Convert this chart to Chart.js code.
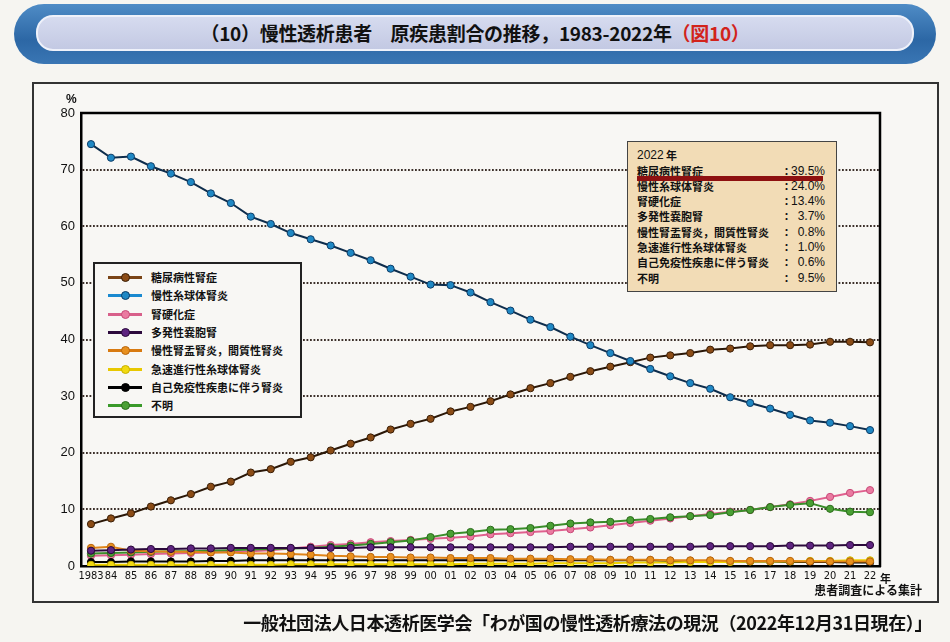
<!DOCTYPE html>
<html><head><meta charset="utf-8">
<script src="https://cdn.jsdelivr.net/npm/chart.js@4"></script>
<style>
html,body{margin:0;padding:0;background:#f6f5f1;}
#wrap{position:relative;width:950px;height:642px;overflow:hidden;background:#f6f5f1;font-family:'Noto Sans CJK JP','Noto Sans',sans-serif;color:#111;}
.abs{position:absolute;}
#banner{left:14px;top:4px;width:922px;height:60px;border-radius:30px;background:linear-gradient(#4f8cc6,#2c67a5 60%,#3a76b4);}
#bannerIn{left:36px;top:15px;width:874px;height:32px;border-radius:17px;background:linear-gradient(#d6dbef,#c3c9e3);border:2px solid #eef1fa;}
#title{left:0;top:15px;width:950px;text-align:center;font-size:19px;font-weight:bold;line-height:36px;letter-spacing:-0.3px;}
#title .red{color:#d2231b;}
#frame{left:32px;top:82px;width:903px;height:517px;border:2px solid #333;background:#f8f7f4;}
#c{position:absolute;left:0;top:0;}
#pct{left:66px;top:92px;font-size:12px;font-weight:bold;font-family:'Liberation Sans',Arial,sans-serif;}
#nen{left:880px;top:570px;font-size:11px;font-weight:bold;}
#src{left:790px;top:582px;width:132px;text-align:right;font-size:12px;font-weight:bold;line-height:16px;}
#foot{left:150px;top:608px;width:782px;text-align:right;font-size:18px;font-weight:bold;line-height:28px;letter-spacing:-0.4px;}
#legend{left:93px;top:262px;width:205px;height:152px;border:2px solid #222;background:#f8f7f4;}
.lrow{position:absolute;left:0;height:18px;width:205px;}
.lline{position:absolute;left:13px;top:8px;width:34px;height:3px;}
.ldot{position:absolute;left:26px;top:5px;width:7px;height:7px;border-radius:50%;border:1px solid #222;}
.ltxt{position:absolute;left:56px;top:0;font-size:11px;font-weight:bold;line-height:18px;white-space:nowrap;}
#info{left:627px;top:141px;width:208px;height:149px;border:1.5px solid #444;background:#f2dcb6;}
.irow{position:absolute;left:0;width:208px;height:15px;font-size:11px;font-weight:bold;line-height:15px;}
.iname{position:absolute;left:9px;white-space:nowrap;}
.icol{position:absolute;left:153px;}
.ival{position:absolute;right:11px;font-family:'Liberation Sans',Arial,sans-serif;font-size:12px;font-weight:normal;}
#redbar{left:637px;top:176px;width:186px;height:5px;background:#8e1010;}
</style></head>
<body>
<div id="wrap">
  <div id="banner" class="abs"></div>
  <div id="bannerIn" class="abs"></div>
  <div id="title" class="abs">（10）慢性透析患者　原疾患割合の推移，1983-2022年<span class="red">（図10）</span></div>
  <div id="frame" class="abs"></div>
  <canvas id="c" width="950" height="642"></canvas>
  <div id="pct" class="abs">%</div>
  <div id="nen" class="abs">年</div>
  <div id="src" class="abs">患者調査による集計</div>
  <div id="legend" class="abs"></div>
  <div id="info" class="abs"></div>
  <div id="redbar" class="abs"></div>
  <div id="foot" class="abs">一般社団法人日本透析医学会「わが国の慢性透析療法の現況（2022年12月31日現在）」</div>
</div>
<script>
// ---- data ----
const years = ['1983','84','85','86','87','88','89','90','91','92','93','94','95','96','97','98','99','00','01','02','03','04','05','06','07','08','09','10','11','12','13','14','15','16','17','18','19','20','21','22'];
const yTicks = [0,10,20,30,40,50,60,70,80];
const seriesNames = ['糖尿病性腎症','慢性糸球体腎炎','腎硬化症','多発性嚢胞腎','慢性腎盂腎炎，間質性腎炎','急速進行性糸球体腎炎','自己免疫性疾患に伴う腎炎','不明'];
const diabetic = [7.4,8.4,9.3,10.5,11.6,12.7,14.0,14.9,16.5,17.1, 18.4,19.2,20.4,21.6,22.7,24.1,25.1,26.0,27.3,28.1, 29.1,30.3,31.4,32.3,33.4,34.4,35.2,36.0,36.8,37.2, 37.6,38.2,38.4,38.8,39.0,39.0,39.1,39.6,39.6,39.5];
const glomerulo = [74.5,72.1,72.3,70.6,69.3,67.8,65.8,64.1,61.7,60.4, 58.8,57.7,56.6,55.3,54.0,52.5,51.1,49.7,49.6,48.3, 46.6,45.1,43.5,42.2,40.5,39.0,37.6,36.2,34.8,33.5, 32.3,31.3,29.8,28.8,27.8,26.7,25.7,25.3,24.7,24.0];
const sclerosis = [1.8,1.9,2.0,2.1,2.2,2.3,2.4,2.5,2.6,2.8, 3.1,3.4,3.7,3.9,4.2,4.4,4.6,4.8,5.0,5.2, 5.6,5.8,6.0,6.2,6.5,6.8,7.2,7.6,8.0,8.4, 8.8,9.2,9.6,9.9,10.4,10.9,11.5,12.2,12.9,13.4];
const polycystic = [2.7,2.8,2.9,3.0,3.0,3.1,3.1,3.2,3.2,3.2, 3.2,3.2,3.2,3.2,3.3,3.3,3.3,3.3,3.3,3.3, 3.3,3.3,3.3,3.3,3.4,3.4,3.4,3.4,3.4,3.4, 3.4,3.5,3.5,3.5,3.5,3.6,3.6,3.6,3.7,3.7];
const pyelo = [3.2,3.4,2.7,2.6,2.5,2.5,2.4,2.4,2.2,2.2, 2.1,2.0,1.8,1.7,1.6,1.6,1.5,1.5,1.4,1.4, 1.4,1.3,1.3,1.3,1.2,1.2,1.1,1.1,1.1,1.0, 1.0,1.0,0.9,0.9,0.9,0.9,0.8,0.8,0.8,0.8];
const rpgn = [0.2,0.2,0.2,0.2,0.2,0.2,0.2,0.2,0.2,0.2, 0.3,0.3,0.3,0.3,0.3,0.3,0.3,0.3,0.3,0.4, 0.4,0.4,0.4,0.5,0.5,0.5,0.5,0.6,0.6,0.6, 0.7,0.7,0.7,0.8,0.8,0.8,0.9,0.9,1.0,1.0];
const autoimmune = [0.7,0.7,0.8,0.8,0.8,0.8,0.9,0.9,1.0,1.0, 1.0,1.0,1.0,1.0,1.0,1.0,1.0,1.0,1.0,1.0, 1.0,1.0,1.0,1.0,1.0,1.0,1.0,1.0,1.0,0.9, 0.9,0.9,0.8,0.8,0.8,0.7,0.7,0.7,0.6,0.6];
const unknown = [2.2,2.3,2.4,2.5,2.6,2.6,2.7,2.8,2.9,3.0, 3.1,3.2,3.4,3.6,3.9,4.2,4.5,5.1,5.7,6.0, 6.4,6.5,6.7,7.1,7.5,7.7,7.8,8.1,8.3,8.6, 8.8,9.0,9.5,9.9,10.4,10.8,11.1,10.1,9.6,9.5];
const latestYear = '2022年';

// ---- styles ----
const allSeries = [diabetic, glomerulo, sclerosis, polycystic, pyelo, rpgn, autoimmune, unknown];
const lineColors = ['#2a1707','#0e2d4c','#e0608e','#2c0a3c','#e08418','#f0d400','#000000','#3a8e2a'];
const fillColors = ['#8b4c16','#1f88c4','#ea7aa0','#5e2480','#e8901e','#f2da10','#000000','#4aa034'];
const edgeColors = ['#3a1e06','#0d3c66','#c84a78','#2a0838','#b8640c','#c8b000','#000000','#2a6a1a'];
const legendLineColors = ['#7a4416','#1a8ad0','#d8608a','#2c0a3c','#d87a10','#e8c800','#000000','#3a9a2a'];
const drawOrder = [1,0,7,2,3,4,5,6];

const datasets = allSeries.map((d,i)=>({
  label: seriesNames[i], data: d,
  borderColor: lineColors[i], backgroundColor: fillColors[i],
  pointBackgroundColor: fillColors[i], pointBorderColor: edgeColors[i],
  pointRadius: 3.6, pointBorderWidth: 1, borderWidth: 2, tension: 0, order: drawOrder[i]
}));

const frameLines = {id:'frameLines', afterDatasetsDraw(ch){
  const a = ch.chartArea, c = ch.ctx; c.save(); c.strokeStyle='#000'; c.lineWidth=2.5;
  c.beginPath(); c.moveTo(a.left-1,a.top); c.lineTo(a.right,a.top); c.lineTo(a.right,a.bottom+1); c.stroke(); c.restore();
}};

new Chart(document.getElementById('c'), {
  type:'line',
  data:{labels:years, datasets},
  options:{
    responsive:false, animation:false, devicePixelRatio:1,
    layout:{padding:{top:113,right:70,left:0,bottom:0}},
    plugins:{legend:{display:false}, tooltip:{enabled:false}},
    scales:{
      x:{type:'category', offset:true,
         grid:{display:false, drawTicks:false},
         border:{color:'#000', width:2.5},
         ticks:{autoSkip:false, maxRotation:0, minRotation:0, padding:4, color:'#111',
                font:{family:"'Liberation Sans Narrow','DejaVu Sans Condensed','Liberation Sans',Arial,sans-serif", size:11}},
         afterFit(s){ s.height = 76; }},
      y:{min:yTicks[0], max:yTicks[yTicks.length-1],
         afterBuildTicks(s){ s.ticks = yTicks.map(v=>({value:v})); },
         ticks:{padding:6, color:'#111', font:{family:"'Liberation Sans',Arial,sans-serif", size:13}},
         grid:{drawTicks:false, lineWidth:2,
               color:(ctx)=> (ctx.tick && (ctx.tick.value===yTicks[0] || ctx.tick.value===yTicks[yTicks.length-1])) ? 'rgba(0,0,0,0)' : '#3c302a'},
         border:{color:'#000', width:2.5, dash:[1.8,1.7]},
         afterFit(s){ s.width = 81; }}
    }
  },
  plugins:[frameLines]
});

// ---- legend (built from series) ----
const lg = document.getElementById('legend');
seriesNames.forEach((n,i)=>{
  const r = document.createElement('div'); r.className='lrow'; r.style.top=(4+i*18.3)+'px';
  r.innerHTML = '<div class="lline" style="background:'+legendLineColors[i]+'"></div>'+
    '<div class="ldot" style="background:'+fillColors[i]+';border-color:'+edgeColors[i]+'"></div>'+
    '<div class="ltxt">'+n+'</div>';
  lg.appendChild(r);
});

// ---- info box (latest values) ----
const info = document.getElementById('info');
const h = document.createElement('div'); h.className='irow'; h.style.top='6px';
h.innerHTML='<span class="iname" style="font-family:\'Liberation Sans\',Arial,sans-serif;font-weight:normal;font-size:12px">'+latestYear.replace('年','')+'</span><span class="iname" style="left:38px">年</span>';
info.appendChild(h);
seriesNames.forEach((n,i)=>{
  const v = allSeries[i][allSeries[i].length-1];
  const r = document.createElement('div'); r.className='irow'; r.style.top=(21.5+i*15.3)+'px';
  r.innerHTML='<span class="iname">'+n+'</span><span class="icol">：</span><span class="ival">'+v.toFixed(1)+'%</span>';
  info.appendChild(r);
});
</script>
</body></html>
